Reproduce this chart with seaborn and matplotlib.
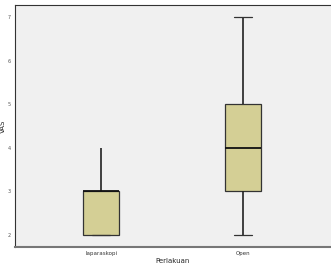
import pandas as pd
import matplotlib
matplotlib.use('Agg')
import matplotlib.pyplot as plt
import seaborn as sns

# VAS scores per treatment group
laparaskopi_vas = [2, 2, 2, 3, 3, 3, 3, 3, 4]
open_vas = [2, 3, 3, 4, 4, 5, 5, 6, 7]
groups = ['laparaskopi', 'Open']
y_ticks = [2, 3, 4, 5, 6, 7]

df = pd.DataFrame({
    'Perlakuan': [groups[0]] * len(laparaskopi_vas) + [groups[1]] * len(open_vas),
    'VAS': laparaskopi_vas + open_vas,
})

sns.set_style('white')
fig = plt.figure(figsize=(3.31, 2.66), dpi=100)
ax = fig.add_axes([15 / 331, 19 / 266, 316 / 331, 242 / 266])
ax.set_facecolor('#f0f0f0')

sns.boxplot(
    data=df, x='Perlakuan', y='VAS', order=groups,
    color='#d4cf95', saturation=1, width=0.26, whis=1.5,
    linewidth=0.9, linecolor='#333333',
    medianprops={'color': '#111111', 'linewidth': 1.3},
    capprops={'color': '#333333'},
    whiskerprops={'color': '#222222', 'linewidth': 1.2},
    showfliers=False, ax=ax,
)

# SPSS style: no cap on the short group's upper whisker
ax.lines[3].set_visible(False)

ax.set_xlim(-0.606, 1.62)
ax.set_ylim(1.725, 7.275)
ax.set_yticks(y_ticks)
ax.set_yticklabels([str(t) for t in y_ticks], fontsize=3.5, color='#555555')
ax.set_xticks([0, 1])
ax.set_xticklabels(groups, fontsize=4, color='#333333')
ax.tick_params(axis='both', length=2, width=0.6, color='#555555', pad=1)

ax.set_xlabel('Perlakuan', fontsize=5, labelpad=1)
ax.set_ylabel('VAS', fontsize=5, labelpad=1)

for side in ['right']:
    ax.spines[side].set_visible(False)
ax.spines['left'].set_color('#333333')
ax.spines['left'].set_linewidth(0.8)
ax.spines['top'].set_color('#333333')
ax.spines['top'].set_linewidth(0.8)
ax.spines['bottom'].set_color('#777777')
ax.spines['bottom'].set_linewidth(1.5)

fig.savefig('out.png', dpi=100, facecolor='white')
